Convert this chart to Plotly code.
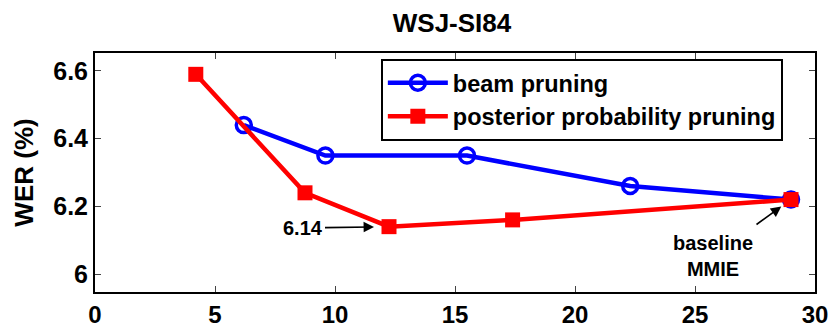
import plotly.graph_objects as go

beam_x = [6.2, 9.6, 15.5, 22.3, 29.0]
beam_y = [6.44, 6.35, 6.35, 6.26, 6.22]
post_x = [4.2, 8.75, 12.25, 17.4, 29.0]
post_y = [6.59, 6.24, 6.14, 6.16, 6.22]
x_ticks = [0, 5, 10, 15, 20, 25, 30]
y_ticks = [6.0, 6.2, 6.4, 6.6]
y_labels = ["6", "6.2", "6.4", "6.6"]

FONT = "Liberation Sans, Arial, sans-serif"

fig = go.Figure()
fig.add_trace(go.Scatter(
    x=beam_x, y=beam_y, mode="lines+markers", name="beam pruning",
    line=dict(color="#0000ff", width=4.5),
    marker=dict(symbol="circle-open", size=15, color="#0000ff", line=dict(width=3.5)),
))
fig.add_trace(go.Scatter(
    x=post_x, y=post_y, mode="lines+markers", name="posterior probability pruning",
    line=dict(color="#ff0000", width=4.5),
    marker=dict(symbol="square", size=15, color="#ff0000"),
))

fig.add_annotation(x=post_x[2], y=post_y[2], ax=-64, ay=1,
                   text="<b>6.14</b>", showarrow=True, arrowhead=2, arrowsize=1.3,
                   arrowwidth=1.6, arrowcolor="black", standoff=15,
                   font=dict(family=FONT, size=20, color="black"), xanchor="right")
fig.add_annotation(x=post_x[4], y=post_y[4], ax=-36, ay=26,
                   text="", showarrow=True, arrowhead=2, arrowsize=1.3,
                   arrowwidth=1.6, arrowcolor="black", standoff=12)
fig.add_annotation(x=25.75, y=6.0535, xref="x", yref="y",
                   text="<b>baseline</b><br><b>MMIE</b>", showarrow=False,
                   font=dict(family=FONT, size=20, color="black"), align="center",
                   yanchor="middle")

fig.update_layout(
    width=834, height=325,
    margin=dict(l=95, r=19, t=53, b=33),
    paper_bgcolor="white", plot_bgcolor="white",
    title=dict(text="<b>WSJ-SI84</b>", x=0.542, xanchor="center", y=0.93, yanchor="middle",
               font=dict(family=FONT, size=26, color="black")),
    font=dict(family=FONT, color="black"),
    showlegend=True,
    legend=dict(x=0.397, y=0.975, xanchor="left", yanchor="top",
                bordercolor="black", borderwidth=2, bgcolor="white",
                font=dict(family=FONT, size=23.5, color="black", weight="bold"),
                itemwidth=60, tracegroupgap=0),
    xaxis=dict(range=[0, 30], tickvals=x_ticks, ticks="inside", ticklen=6,
               showline=True, linecolor="black", linewidth=2, mirror="ticks",
               showgrid=False, zeroline=False, automargin=False,
               tickfont=dict(family=FONT, size=24, color="black", weight="bold")),
    yaxis=dict(range=[5.947, 6.653], tickvals=y_ticks, ticktext=y_labels,
               ticks="inside", ticklen=6,
               showline=True, linecolor="black", linewidth=2, mirror="ticks",
               showgrid=False, zeroline=False, automargin=False,
               tickfont=dict(family=FONT, size=25, color="black", weight="bold"),
               title=dict(text="WER (%)", standoff=12,
                          font=dict(family=FONT, size=26, color="black", weight="bold"))),
)

fig.write_html("out.html", config={"displayModeBar": False},
               post_script="document.body.style.margin='0px';document.body.style.overflow='hidden';")
